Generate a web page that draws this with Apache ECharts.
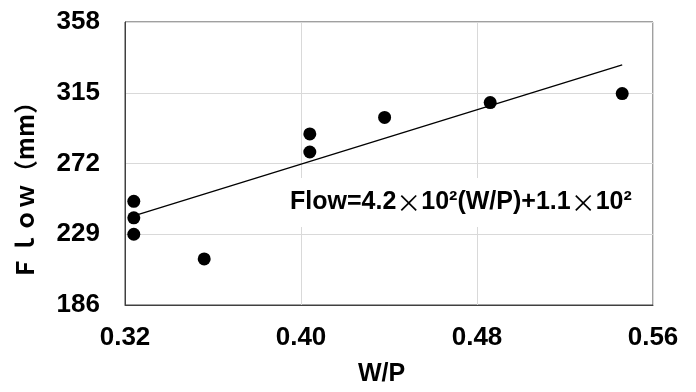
<!DOCTYPE html>
<html>
<head>
<meta charset="utf-8">
<script src="https://cdn.jsdelivr.net/npm/echarts@6/dist/echarts.min.js"></script>
<style>
  html, body { margin: 0; padding: 0; background: #fff; }
  #main { width: 696px; height: 392px; }
</style>
</head>
<body>
<div id="main"></div>
<script>
// 散点数据
var wpValues = [0.324, 0.324, 0.324, 0.356, 0.404, 0.404, 0.438, 0.486, 0.546]
var flowValues = [249, 239, 229, 214, 290, 279, 300, 309, 314.5]
// 趋势线两端
var trendX = [0.3236, 0.546]
var trendY = [240, 332]
// 坐标轴刻度
var xTicks = [0.32, 0.40, 0.48, 0.56]
var yTicks = [186, 229, 272, 315, 358]

// y轴从186开始，间隔43，先平移再画
var yBase = yTicks[0]
var yStep = yTicks[1] - yTicks[0]

var chartDom = document.getElementById('main')
var myChart = echarts.init(chartDom)
var option

var scatterData = []
for (var i = 0; i < wpValues.length; i++) {
  scatterData.push([wpValues[i], flowValues[i] - yBase])
}
var trendData = []
for (var j = 0; j < trendX.length; j++) {
  trendData.push([trendX[j], trendY[j] - yBase])
}

var labelFont = {
  fontFamily: 'Liberation Sans',
  fontWeight: 'bold',
  fontSize: 26,
  color: '#000'
}

option = {
  animation: false,
  backgroundColor: '#fff',
  title: {
    left: 282,
    top: 178,
    padding: [12, 8, 12, 8],
    backgroundColor: '#fff',
    text: 'Flow=4.2{x|×}10²(W/P)+1.1{x|×}10²',
    textStyle: {
      fontFamily: 'Liberation Sans',
      fontWeight: 'bold',
      fontSize: 25,
      color: '#000',
      rich: {
        x: {
          fontFamily: 'Noto Sans CJK SC',
          fontWeight: 'normal',
          fontSize: 25,
          color: '#000'
        }
      }
    }
  },
  grid: {
    left: 125,
    top: 22,
    right: 43,
    bottom: 84,
    show: true,
    borderColor: '#404040',
    borderWidth: 1
  },
  xAxis: {
    type: 'value',
    min: xTicks[0],
    max: xTicks[xTicks.length - 1],
    interval: 0.08,
    name: 'W/P',
    nameLocation: 'middle',
    nameGap: 57,
    nameTextStyle: {
      fontFamily: 'Liberation Sans',
      fontWeight: 'bold',
      fontSize: 25,
      color: '#000',
      padding: [0, 15, 0, 0]
    },
    axisLine: { show: true, lineStyle: { color: '#404040', width: 1 } },
    axisTick: { show: false },
    axisLabel: Object.assign({
      margin: 20,
      formatter: function (v) { return v.toFixed(2) }
    }, labelFont),
    splitLine: { show: true, lineStyle: { color: '#d9d9d9', width: 1 } }
  },
  yAxis: {
    type: 'value',
    min: 0,
    max: yTicks[yTicks.length - 1] - yBase,
    interval: yStep,
    axisLine: { show: true, lineStyle: { color: '#404040', width: 1 } },
    axisTick: { show: false },
    axisLabel: Object.assign({
      margin: 25,
      formatter: function (v) { return String(Math.round(v + yBase)) }
    }, labelFont),
    splitLine: { show: true, lineStyle: { color: '#d9d9d9', width: 1 } }
  },
  graphic: [
    {
      type: 'text',
      x: 25,
      y: 185,
      rotation: Math.PI / 2,
      z: 100,
      style: {
        text: 'Ｆｌｏｗ（mm）',
        fontFamily: 'Noto Sans CJK SC',
        fontWeight: 'bold',
        fontSize: 24,
        fill: '#000',
        align: 'center',
        verticalAlign: 'middle'
      }
    }
  ],
  series: [
    {
      type: 'line',
      data: trendData,
      symbol: 'none',
      lineStyle: { color: '#000', width: 1.3 },
      z: 2
    },
    {
      type: 'scatter',
      data: scatterData,
      symbol: 'circle',
      symbolSize: 13,
      itemStyle: { color: '#000', opacity: 1 },
      z: 3
    }
  ]
}

option && myChart.setOption(option)
</script>
</body>
</html>
